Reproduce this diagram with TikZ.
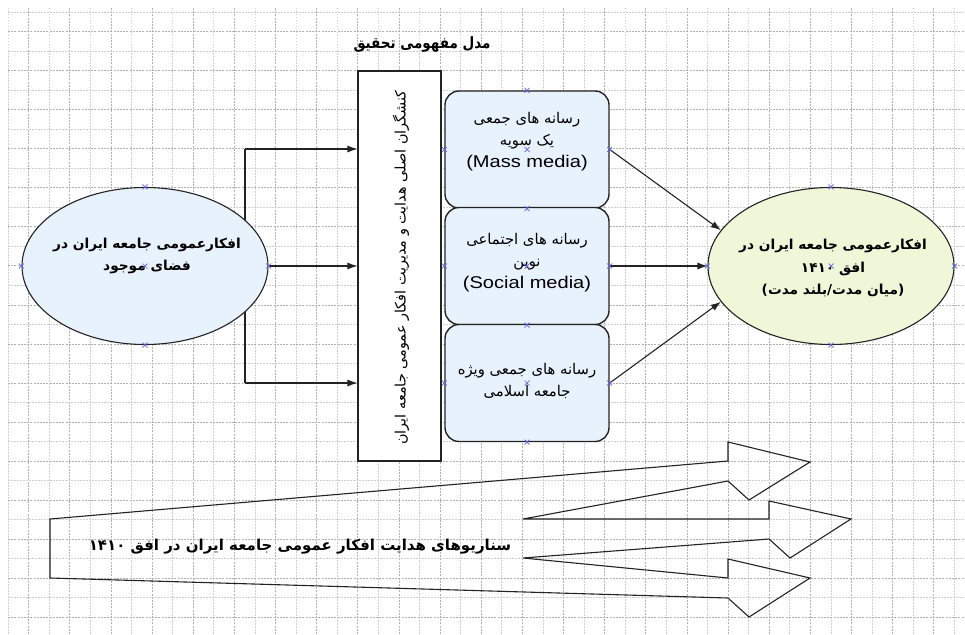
\documentclass[tikz,border=0pt]{standalone}
\usepackage{fontspec}
\setmainfont{Liberation Sans}
\newfontfamily\fa[Script=Arabic]{DejaVu Sans}
\TeXXeTstate=1
\usetikzlibrary{shapes.geometric,arrows.meta}
\definecolor{lblue}{RGB}{232,242,253}
\definecolor{lgreen}{RGB}{240,247,216}
\definecolor{mkc}{RGB}{100,100,230}
\definecolor{edge}{RGB}{35,35,35}
\newcommand\RL[1]{\beginR#1\endR}
\newcommand\xm[1]{\draw[xmark] (#1) ++(-2.5,-2.5) -- ++(5,5) ++(0,-5) -- ++(-5,5);}
\newcommand\en[1]{{\fontspec{Liberation Sans}\fontsize{17}{20}\selectfont\scalebox{1.18}[1]{#1}}}
\tikzset{
  gridA/.style={draw=gray!60, line width=0.6pt, dash pattern=on 2pt off 1.2pt},
  gridB/.style={draw=gray!38, line width=0.6pt, dash pattern=on 1.5pt off 1.5pt},
  ell/.style={ellipse, draw=edge, line width=1.1pt, minimum width=246pt, minimum height=157pt, inner sep=0pt},
  mbox/.style={draw=edge, line width=1.4pt, rounded corners=14pt, fill=lblue, minimum width=164pt, minimum height=117pt, inner sep=0pt},
  conn/.style={draw=edge, line width=1.1pt, -{Latex[length=10pt,width=7pt]}},
  plain/.style={draw=edge, line width=1.1pt},
  xmark/.style={draw=mkc, line width=0.7pt},
  fatxt/.style={font=\fa\fontsize{14.8}{22}\selectfont, align=center, inner sep=0pt},
  fabold/.style={font=\fa\bfseries\fontsize{13.7}{22.5}\selectfont, align=center, inner sep=0pt},
}
\begin{document}
\begin{tikzpicture}[x=1pt,y=-1pt]
\useasboundingbox (0,0) rectangle (965,634);
\fill[white] (0,0) rectangle (965,634);
% grid
\foreach \i in {0,...,46}{
  \pgfmathtruncatemacro\odd{mod(\i,2)}
  \ifnum\odd=1 \draw[gridA] ({8+20.57*\i},8) -- ({8+20.57*\i},634);
  \else \draw[gridB] ({8+20.57*\i},8) -- ({8+20.57*\i},634); \fi
}
\foreach \j in {0,...,31}{
  \pgfmathtruncatemacro\odd{mod(\j,2)}
  \ifnum\odd=1 \draw[gridA] (8,{12+19.52*\j}) -- (965,{12+19.52*\j});
  \else \draw[gridB] (8,{12+19.52*\j}) -- (965,{12+19.52*\j}); \fi
}
% title
\node[fabold, font=\fa\bfseries\fontsize{13.5}{16}\selectfont] (title) at (422,45) {\scalebox{1}[1.15]{\RL{مدل مفهومی تحقیق}}};
% fork
\coordinate (f1) at (245,149);
\coordinate (f2) at (245,383);
\draw[plain] (f1) -- (f2);
% left ellipse
\node[ell, fill=lblue] (L) at (145,266) {};
\node[fabold] (Ltxt) at (147,256) {\RL{افکارعمومی جامعه ایران در}\\\RL{فضای موجود}};
% main rectangle
\node[draw=edge, line width=1.1pt, fill=white, minimum width=83pt, minimum height=390pt, inner sep=0pt] (M) at (399.5,266) {};
\node[fatxt, font=\fa\fontsize{14.4}{18}\selectfont, rotate=90] (Mtxt) at (401,267.5) {\RL{کنشگران اصلی هدایت و مدیریت افکار عمومی جامعه ایران}};
% media boxes
\node[mbox] (B1) at (527,149.5) {};
\node[mbox] (B2) at (527,266) {};
\node[mbox] (B3) at (527,383) {};
\node[fatxt] (B1t) at (527,141.5) {\RL{رسانه های جمعی}\\\RL{یک سویه}\\[0pt]\en{(Mass media)}};
\node[fatxt] (B2t) at (527,262.5) {\RL{رسانه های اجتماعی}\\\RL{نوین}\\[0pt]\en{(Social media)}};
\node[fatxt] (B3t) at (527,381) {\RL{رسانه های جمعی ویژه}\\\RL{جامعه اسلامی}};
% right ellipse
\node[ell, fill=lgreen] (R) at (831,266) {};
\node[fabold] (Rtxt) at (833,268) {\RL{افکارعمومی جامعه ایران در}\\\RL{افق \beginL۱۴۱۰\endL}\\\RL{(میان مدت/بلند مدت)}};
% connectors
\draw[conn] (f1) -- (f1 -| M.west);
\draw[conn] (L.east) -- (L.east -| M.west);
\draw[conn] (f2) -- (f2 -| M.west);
\draw[conn] (B1.east) -- (R.162);
\draw[conn] (B2.east) -- (R.west);
\draw[conn] (B3.east) -- (R.198);
% markers
\foreach \a in {north,west,center,east,south}{\xm{L.\a}\xm{R.\a}\xm{B1.\a}}
\foreach \a in {west,center,east,south}{\xm{B2.\a}\xm{B3.\a}}
% bottom scenario arrows
\draw[edge, line width=1.1pt, line join=miter]
  (50,519) -- (728,461) -- (728,442) -- (810,462) -- (749,500) -- (728,481)
  -- (523,519) -- (769,519) -- (769,501) -- (851,519) -- (790,558) -- (769,539)
  -- (523,558) -- (728,578) -- (728,559) -- (810,578) -- (749,617) -- (728,598)
  -- (50,578) -- cycle;
\node[fabold, font=\fa\bfseries\fontsize{15}{18}\selectfont] (Btxt) at (300,547) {\RL{سناریوهای هدایت افکار عمومی جامعه ایران  در افق \beginL۱۴۱۰\endL}};
\end{tikzpicture}
\end{document}
